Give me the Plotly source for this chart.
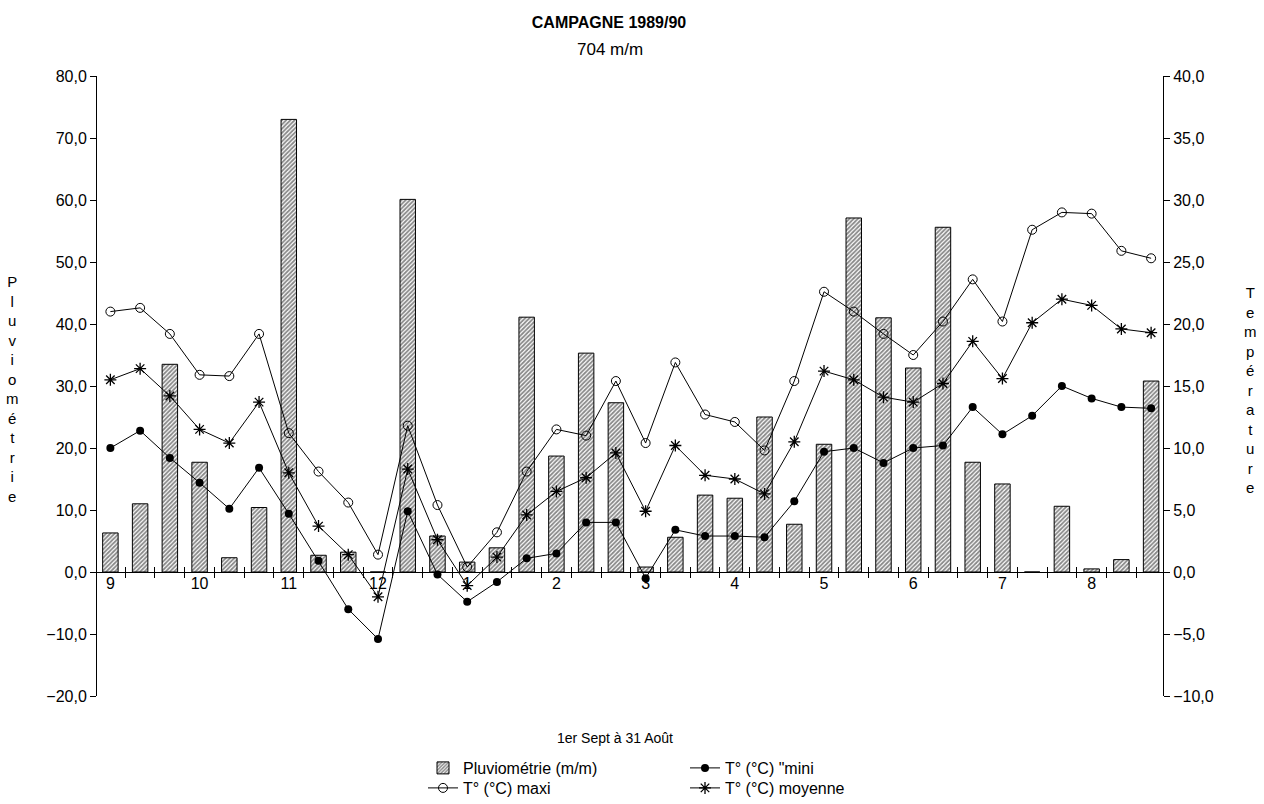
import plotly.graph_objects as go

# 36 decades (10-day periods), 1 Sept 1989 -> 31 Aug 1990
month_labels = ["9", "10", "11", "12", "1", "2", "3", "4", "5", "6", "7", "8"]
decades = [f"{m}-D{d}" for m in month_labels for d in (1, 2, 3)]

rain = [6.3, 11.0, 33.5, 17.7, 2.3, 10.4, 73.0, 2.7, 3.2, 0.0, 60.1, 5.8,
        1.6, 3.9, 41.1, 18.7, 35.3, 27.3, 0.8, 5.6, 12.4, 11.9, 25.0, 7.7,
        20.6, 57.1, 41.0, 32.9, 55.6, 17.7, 14.2, 0.0, 10.6, 0.5, 2.0, 30.8]
tmax = [21.0, 21.3, 19.2, 15.9, 15.8, 19.2, 11.2, 8.1, 5.6, 1.4, 11.8, 5.4,
        0.4, 3.2, 8.1, 11.5, 11.0, 15.4, 10.4, 16.9, 12.7, 12.1, 9.8, 15.4,
        22.6, 21.0, 19.2, 17.5, 20.2, 23.6, 20.2, 27.6, 29.0, 28.9, 25.9, 25.3]
tmoy = [15.5, 16.4, 14.2, 11.5, 10.4, 13.7, 8.0, 3.7, 1.4, -2.0, 8.3, 2.6,
        -1.1, 1.2, 4.6, 6.5, 7.6, 9.6, 4.9, 10.2, 7.8, 7.5, 6.3, 10.5,
        16.2, 15.5, 14.1, 13.7, 15.2, 18.6, 15.6, 20.1, 22.0, 21.5, 19.6, 19.3]
tmin = [10.0, 11.4, 9.2, 7.2, 5.1, 8.4, 4.7, 0.9, -3.0, -5.4, 4.9, -0.2,
        -2.4, -0.8, 1.1, 1.5, 4.0, 4.0, -0.5, 3.4, 2.9, 2.9, 2.8, 5.7,
        9.7, 10.0, 8.8, 10.0, 10.2, 13.3, 11.1, 12.6, 15.0, 14.0, 13.3, 13.2]

left_ticks = [-20, -10, 0, 10, 20, 30, 40, 50, 60, 70, 80]
right_ticks = [-10, -5, 0, 5, 10, 15, 20, 25, 30, 35, 40]

title = "CAMPAGNE 1989/90"
subtitle = "704 m/m"
x_title = "1er Sept à 31 Août"
y_title = "Pluviométrie"
y2_title = "Température"

x = list(range(len(decades)))
month_pos = x[::3]
boundaries = [i + 0.5 for i in x[:-1]]
xrange_ = [-0.45, len(decades) - 0.6]

FONT = "Liberation Sans, Arial, sans-serif"

# plot area in pixels
L, R, T, B = 97, 1163, 76, 696
PW, PH = R - L, B - T


def px_x(p):
    return (p - L) / PW


def px_y(p):
    return (B - p) / PH


fig = go.Figure()

fig.add_trace(go.Bar(
    x=x, y=rain, width=0.52, name="Pluviométrie (m/m)",
    marker=dict(color="white", line=dict(color="black", width=1),
                pattern=dict(shape="/", fgcolor="#111111", bgcolor="white",
                             size=3, solidity=0.6)),
    legend="legend", yaxis="y", xaxis="x"))

fig.add_trace(go.Scatter(
    x=x, y=tmax, mode="lines+markers", name="T° (°C) maxi",
    line=dict(color="black", width=1),
    marker=dict(symbol="circle-open", size=9, color="black", line=dict(width=1)),
    legend="legend3", yaxis="y2", xaxis="x"))

fig.add_trace(go.Scatter(
    x=x, y=tmin, mode="lines+markers", name="T° (°C) \"mini",
    line=dict(color="black", width=1),
    marker=dict(symbol="circle", size=8, color="black"),
    legend="legend2", yaxis="y2", xaxis="x"))

fig.add_trace(go.Scatter(
    x=x, y=tmoy, mode="lines+markers", name="T° (°C) moyenne",
    line=dict(color="black", width=1),
    marker=dict(symbol="asterisk-open", size=10, color="black",
                line=dict(width=1.3, color="black")),
    legend="legend4", yaxis="y2", xaxis="x"))

# helper traces so overlay x-axes get drawn
for ax in ("x2", "x3"):
    fig.add_trace(go.Scatter(x=[], y=[], xaxis=ax, yaxis="y",
                             showlegend=False, hoverinfo="skip"))

zero_pos = (0 - left_ticks[0]) / (left_ticks[-1] - left_ticks[0])

common_x = dict(range=xrange_, anchor="free", position=zero_pos,
                showgrid=False, zeroline=False, fixedrange=True)

TICKFONT = dict(family=FONT, size=16, color="black")
LEGFONT = dict(family=FONT, size=16, color="black")


def leg(xp, yp):
    return dict(x=px_x(xp), y=px_y(yp), xanchor="left", yanchor="middle",
                orientation="v", bgcolor="rgba(0,0,0,0)", tracegroupgap=0,
                itemwidth=30, font=LEGFONT)


fig.update_layout(
    width=1264, height=804,
    margin=dict(l=L, r=1264 - R, t=T, b=804 - B, autoexpand=False),
    paper_bgcolor="white", plot_bgcolor="white",
    separators=", ",
    showlegend=True,
    font=dict(family=FONT, size=14, color="black"),
    title=dict(text=f"<b>{title}</b>", x=609 / 1264, xanchor="center",
               y=1 - 22 / 804, yanchor="middle", yref="container",
               font=dict(family=FONT, size=16, color="black")),
    xaxis=dict(**common_x, showline=True, linecolor="black", linewidth=1,
               tickmode="array", tickvals=boundaries, ticks="outside",
               ticklen=5, tickcolor="black", showticklabels=False),
    xaxis2=dict(**common_x, overlaying="x", showline=False,
                tickmode="array", tickvals=boundaries, ticks="inside",
                ticklen=5, tickcolor="black", showticklabels=False),
    xaxis3=dict(**common_x, overlaying="x", showline=False,
                tickmode="array", tickvals=month_pos, ticktext=month_labels,
                ticks="", tickfont=TICKFONT),
    yaxis=dict(range=[left_ticks[0], left_ticks[-1]], tickmode="array",
               tickvals=left_ticks, tickformat=".1f", ticks="outside",
               ticklen=6, tickcolor="black", showline=True, linecolor="black",
               linewidth=1, showgrid=False, zeroline=False, anchor="x",
               tickfont=TICKFONT),
    yaxis2=dict(range=[right_ticks[0], right_ticks[-1]], tickmode="array",
                tickvals=right_ticks, tickformat=".1f", ticks="outside",
                ticklen=6, tickcolor="black", showline=True, linecolor="black",
                linewidth=1, showgrid=False, zeroline=False, overlaying="y",
                side="right", anchor="x", tickfont=TICKFONT),
    legend=leg(423, 768),
    legend3=leg(423, 788),
    legend2=leg(685, 768),
    legend4=leg(685, 788),
)

fig.add_annotation(text=subtitle, xref="paper", yref="paper",
                   x=px_x(610), y=px_y(50),
                   xanchor="center", yanchor="middle", showarrow=False,
                   font=dict(family=FONT, size=17, color="black"))
fig.add_annotation(text=x_title, xref="paper", yref="paper",
                   x=px_x(615), y=px_y(738),
                   xanchor="center", yanchor="middle", showarrow=False,
                   font=dict(family=FONT, size=14, color="black"))
fig.add_annotation(text="<br>".join(list(y_title)), xref="paper", yref="paper",
                   x=px_x(12), y=px_y(389), align="center",
                   xanchor="center", yanchor="middle", showarrow=False,
                   font=dict(family=FONT, size=15, color="black"))
fig.add_annotation(text="<br>".join(list(y2_title)), xref="paper", yref="paper",
                   x=px_x(1250), y=px_y(390), align="center",
                   xanchor="center", yanchor="middle", showarrow=False,
                   font=dict(family=FONT, size=15, color="black"))

fig.write_html("out.html", config={"displayModeBar": False},
               post_script="document.body.style.margin='0';"
                           "document.body.style.overflow='hidden';")
